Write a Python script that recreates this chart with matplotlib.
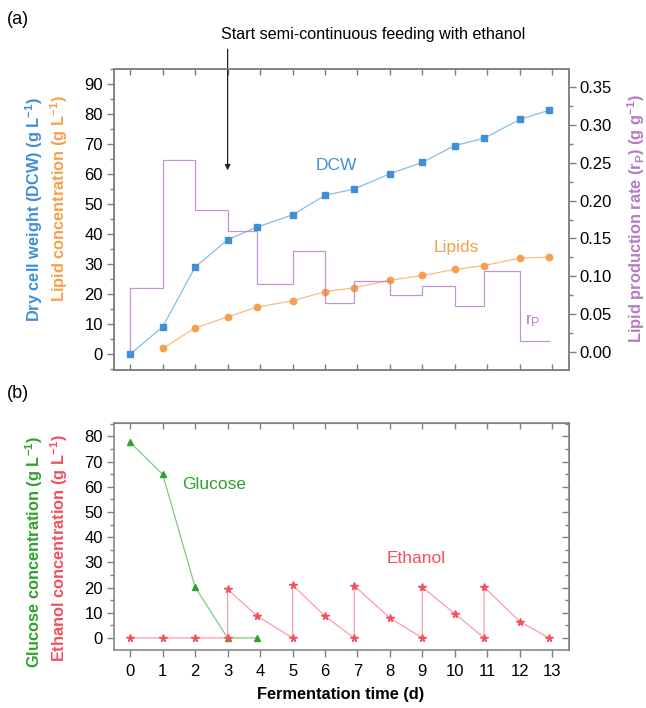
import matplotlib
matplotlib.use("Agg")
import matplotlib.pyplot as plt
from matplotlib.ticker import MultipleLocator

plt.rcParams['font.family'] = ['Liberation Sans', 'DejaVu Sans']
plt.rcParams['mathtext.fontset'] = 'custom'
plt.rcParams['mathtext.rm'] = 'Liberation Sans'
plt.rcParams['mathtext.bf'] = 'Liberation Sans:bold'
plt.rcParams['mathtext.it'] = 'Liberation Sans:italic'

# ---------------- data ----------------
time_dcw = [0, 1, 2, 3, 3.9, 5, 6, 6.9, 8, 9, 10, 10.9, 12, 12.9]
dcw = [0, 9.1, 29.0, 38.1, 42.3, 46.4, 52.9, 55.0, 60.1, 63.9, 69.5, 71.9, 78.2, 81.2]

time_lip = [1, 2, 3, 3.9, 5, 6, 6.9, 8, 9, 10, 10.9, 12, 12.9]
lipids = [1.9, 8.7, 12.4, 15.6, 17.8, 20.8, 22.1, 24.6, 26.2, 28.2, 29.5, 32.0, 32.3]

time_rp = [0, 0, 1, 2, 3, 3.9, 5, 6, 6.9, 8, 9, 10, 10.9, 12, 12.9]
rp = [0, 0.085, 0.254, 0.188, 0.160, 0.090, 0.133, 0.065, 0.094, 0.075, 0.087, 0.060, 0.107, 0.015, 0.015]

time_glc = [0, 1, 2, 3, 3.9]
glucose = [77.6, 64.9, 20.1, 0, 0]

time_eth = [0, 1, 2, 3, 3, 3.9, 5, 5, 6, 6.9, 6.9, 8, 9, 9, 10, 10.9, 10.9, 12, 12.9]
ethanol = [0, 0, 0, 0, 19.3, 8.8, 0, 21.1, 8.6, 0, 20.7, 7.9, 0, 20.1, 9.6, 0, 20.2, 6.5, 0]

xticks = list(range(0, 14))

# ---------------- colours ----------------
c_dcw = '#3f8fd6'
c_lip = '#f7a04c'
c_rp = '#b57cc4'
c_glc = '#2fa22f'
c_eth = '#f0505f'
spine_c = '#7f7f7f'

W, H = 646, 708
fig = plt.figure(figsize=(W / 100, H / 100), dpi=100)

def fx(px):
    return px / W

def fy(py):
    return 1 - py / H

axA = fig.add_axes([fx(114), fy(370), fx(568.5) - fx(114), fy(69) - fy(370)])
axB = fig.add_axes([fx(114), fy(650), fx(568.5) - fx(114), fy(423.3) - fy(650)])
axR = axA.twinx()

tick_fs = 12
lab_fs = 11.8
txt_fs = 12.5

def style_spines(ax):
    for s in ax.spines.values():
        s.set_color(spine_c)
        s.set_linewidth(1.1)

for ax in (axA, axB, axR):
    style_spines(ax)

# ---------------- panel (a) ----------------
axA.plot(time_dcw, dcw, '-', color=c_dcw, lw=0.9, alpha=0.6)
axA.plot(time_dcw, dcw, 's', color=c_dcw, ms=4.2, mec=c_dcw)
axA.plot(time_lip, lipids, '-', color=c_lip, lw=0.9, alpha=0.7)
axA.plot(time_lip, lipids, 'o', color=c_lip, ms=4.6, mec=c_lip)
axR.step(time_rp, rp, where='post', color=c_rp, lw=0.9, alpha=0.8)

axA.set_xlim(-0.5, 13.5)
axA.set_ylim(-5.3, 95)
axR.set_ylim(-0.024, 0.374)
axA.set_xticks(xticks)
axA.set_yticks(range(0, 91, 10))
axA.yaxis.set_minor_locator(MultipleLocator(5))
axR.set_yticks([0, 0.05, 0.10, 0.15, 0.20, 0.25, 0.30, 0.35])
axR.set_yticklabels(['0.00', '0.05', '0.10', '0.15', '0.20', '0.25', '0.30', '0.35'])
axR.yaxis.set_minor_locator(MultipleLocator(0.025))

axA.tick_params(axis='x', which='both', direction='in', top=True, bottom=True,
                labelbottom=False, length=4, color=spine_c, width=1)
axA.tick_params(axis='y', which='major', direction='out', length=5, color=spine_c,
                width=1, labelsize=tick_fs, right=False, pad=3)
axA.tick_params(axis='y', which='minor', direction='out', length=3, color=spine_c, width=1)
axR.tick_params(axis='y', which='major', direction='out', length=5, color=spine_c,
                width=1, labelsize=tick_fs, pad=3)
axR.tick_params(axis='y', which='minor', direction='out', length=3, color=spine_c, width=1)

axA.text(6.35, 62.8, 'DCW', color=c_dcw, fontsize=txt_fs, ha='center', va='center')
axA.text(10.03, 35.6, 'Lipids', color=c_lip, fontsize=txt_fs, ha='center', va='center')
axA.text(12.4, 11.1, r'r$_\mathregular{P}$', color=c_rp, fontsize=txt_fs, ha='center', va='center')

axA.annotate('', xy=(3, 60.3), xytext=(3, 102.5),
             arrowprops=dict(arrowstyle='-|>', color='#222222', lw=0.9, mutation_scale=8),
             annotation_clip=False)
fig.text(fx(373), fy(35), 'Start semi-continuous feeding with ethanol',
         fontsize=11.6, ha='center', va='center')

fig.text(fx(34), fy(210), r'Dry cell weight (DCW) (g L$^{\mathbf{-1}}$)', color=c_dcw,
         rotation=90, fontsize=lab_fs, fontweight='bold', ha='center', va='center')
fig.text(fx(59), fy(199), r'Lipid concentration (g L$^{\mathbf{-1}}$)', color=c_lip,
         rotation=90, fontsize=lab_fs, fontweight='bold', ha='center', va='center')
fig.text(fx(636), fy(219), r'Lipid production rate (r$_{\mathbf{P}}$) (g g$^{\mathbf{-1}}$)',
         color=c_rp, rotation=90, fontsize=lab_fs, fontweight='bold', ha='center', va='center')

fig.text(fx(18), fy(20), '(a)', fontsize=13, ha='center', va='center')
fig.text(fx(18), fy(393), '(b)', fontsize=13, ha='center', va='center')

# ---------------- panel (b) ----------------
axB.plot(time_glc, glucose, '-', color=c_glc, lw=0.9, alpha=0.6)
axB.plot(time_glc, glucose, '^', color=c_glc, ms=5, mec=c_glc)
axB.plot(time_eth, ethanol, '-', color=c_eth, lw=0.9, alpha=0.55)
axB.plot(time_eth, ethanol, '*', color=c_eth, ms=5.5, mec=c_eth)

axB.set_xlim(-0.5, 13.5)
axB.set_ylim(-4.8, 85.2)
axB.set_xticks(xticks)
axB.set_yticks(range(0, 81, 10))
axB.yaxis.set_minor_locator(MultipleLocator(5))
axB.tick_params(axis='x', which='both', direction='out', top=False, bottom=True,
                length=5, color=spine_c, width=1, labelsize=tick_fs, pad=5)
axB.tick_params(axis='y', which='major', direction='out', length=5, color=spine_c,
                width=1, labelsize=tick_fs, pad=3)
axB.tick_params(axis='y', which='minor', direction='out', length=3, color=spine_c, width=1)
# inward mirrored ticks on top / right
axBt = axB.secondary_xaxis('top')
axBt.set_xticks(xticks)
axBt.tick_params(direction='in', length=4, color=spine_c, width=1, labeltop=False)
axBt.spines['top'].set_color(spine_c)
axBr = axB.secondary_yaxis('right')
axBr.set_yticks(range(0, 81, 10))
axBr.yaxis.set_minor_locator(MultipleLocator(5))
axBr.tick_params(which='major', direction='in', length=5, color=spine_c, width=1, labelright=False)
axBr.tick_params(which='minor', direction='in', length=3, color=spine_c, width=1)
axBr.spines['right'].set_color(spine_c)

axB.text(2.58, 61.1, 'Glucose', color=c_glc, fontsize=txt_fs, ha='center', va='center')
axB.text(8.8, 31.7, 'Ethanol', color=c_eth, fontsize=txt_fs, ha='center', va='center')

fig.text(fx(341), fy(694), 'Fermentation time (d)', fontsize=11.8, fontweight='bold',
         ha='center', va='center')

fig.text(fx(34), fy(552), r'Glucose concentration (g L$^{\mathbf{-1}}$)', color=c_glc,
         rotation=90, fontsize=lab_fs, fontweight='bold', ha='center', va='center')
fig.text(fx(59), fy(548), r'Ethanol concentration (g L$^{\mathbf{-1}}$)', color=c_eth,
         rotation=90, fontsize=lab_fs, fontweight='bold', ha='center', va='center')

fig.savefig('out.png', dpi=100)
